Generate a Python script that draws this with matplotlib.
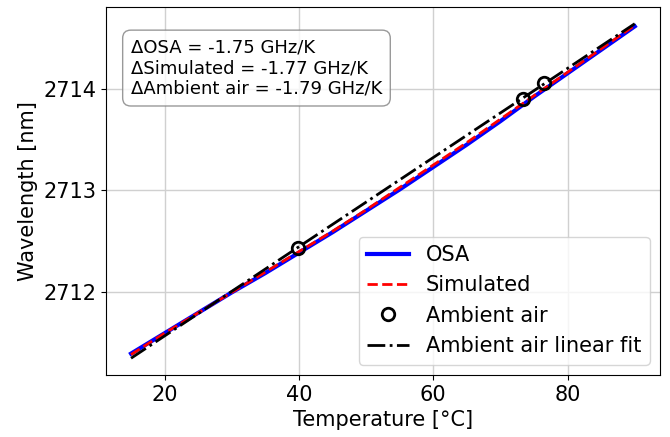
import numpy as np
import matplotlib
matplotlib.use("Agg")
import matplotlib.pyplot as plt

temp_osa = [15, 20, 25, 30, 35, 40, 45, 50, 55, 60, 65, 70, 75, 80, 85, 90]
wl_osa = [2711.40, 2711.60, 2711.80, 2712.00, 2712.19, 2712.39, 2712.59, 2712.80,
          2713.01, 2713.23, 2713.45, 2713.68, 2713.92, 2714.15, 2714.38, 2714.61]
temp_sim = [15, 20, 25, 30, 35, 40, 45, 50, 55, 60, 65, 70, 75, 80, 85, 90]
wl_sim = [2711.39, 2711.60, 2711.80, 2712.00, 2712.20, 2712.40, 2712.60, 2712.81,
          2713.03, 2713.25, 2713.47, 2713.70, 2713.93, 2714.16, 2714.39, 2714.62]
temp_air = [39.8, 73.3, 76.5]
wl_air = [2712.44, 2713.90, 2714.05]
fit_range = [15, 90]
box_text = ("ΔOSA = -1.75 GHz/K\n"
            "ΔSimulated = -1.77 GHz/K\n"
            "ΔAmbient air = -1.79 GHz/K")

fig = plt.figure(figsize=(6.7, 4.37), dpi=100)
ax = fig.add_axes([0.158, 0.142, 0.827, 0.842])

ax.plot(temp_osa, wl_osa, color="blue", lw=3, label="OSA")
ax.plot(temp_sim, wl_sim, color="red", ls="--", lw=2, label="Simulated")
ax.plot(temp_air, wl_air, ls="none", marker="o", ms=9, mfc="none", mec="black",
        mew=2, label="Ambient air")
p = np.polyfit(temp_air, wl_air, 1)
xf = np.array(fit_range)
ax.plot(xf, np.polyval(p, xf), color="black", ls="-.", lw=2,
        label="Ambient air linear fit")

ax.grid(True, color="#d0d0d0", lw=1)
ax.set_axisbelow(True)
ax.set_xticks([20, 40, 60, 80])
ax.set_yticks([2712, 2713, 2714])
ax.tick_params(labelsize=15)
ax.set_xlabel("Temperature [°C]", fontsize=15, labelpad=4)
ax.set_ylabel("Wavelength [nm]", fontsize=15)
ax.ticklabel_format(useOffset=False, axis="y")

ax.text(0.045, 0.915, box_text, transform=ax.transAxes, fontsize=13, va="top",
        ha="left", linespacing=1.2,
        bbox=dict(boxstyle="round,pad=0.45", fc="white", ec="gray", alpha=0.8))
ax.legend(loc="lower right", fontsize=15)

fig.savefig("out.png", dpi=100)
